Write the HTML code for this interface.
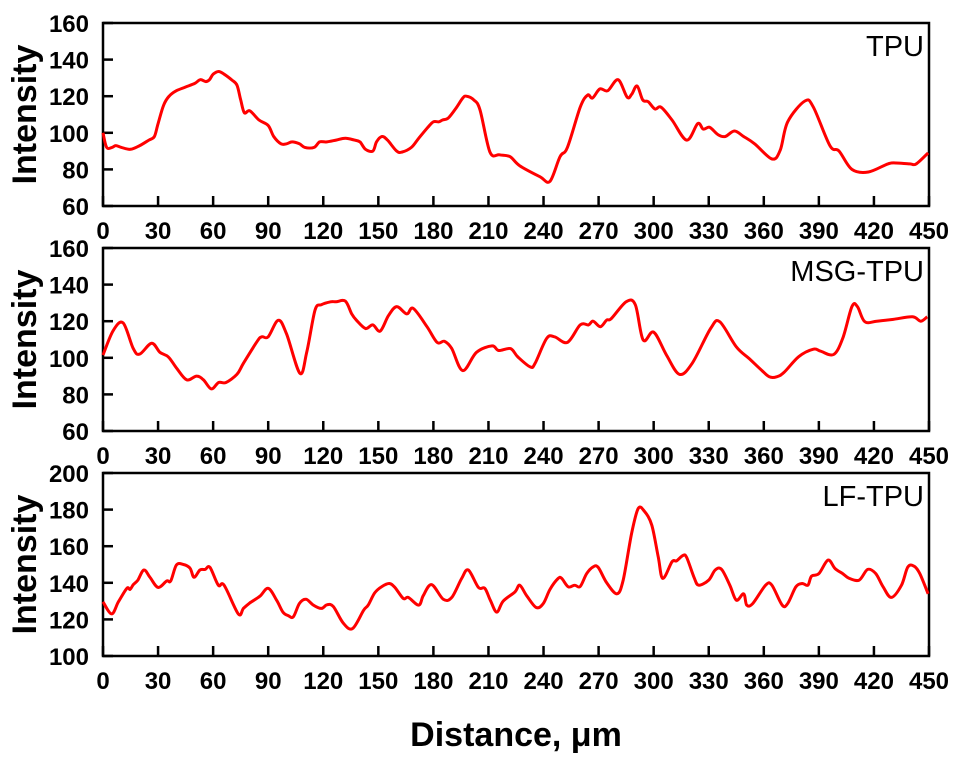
<!DOCTYPE html>
<html><head><meta charset="utf-8"><style>
html,body{margin:0;padding:0;background:#fff;}
svg{display:block;font-family:"Liberation Sans",Arial,sans-serif;}
.tk{font-size:24px;font-weight:bold;fill:#000;}
</style></head><body>
<svg id="chart" width="959" height="763" viewBox="0 0 959 763">
<text x="516" y="746" text-anchor="middle" font-size="34" font-weight="bold">Distance, μm</text>
</svg>
<script>
// TPU series
const tpuX=[0,2,5,7,10,15,20,25,28,30,33,36,40,45,50,53,56,58,60,63,66,70,73,75,77,80,85,90,93,97,100,103,107,110,115,118,122,127,132,137,140,143,147,149,152,155,160,163,168,172,177,180,183,185,188,192,196,198,202,205.4,210.8,216,221.7,227,238,243.5,249,253,260,264,266.7,270.7,275,280.6,285.5,288,291,294,297,300.7,304,310,318,324,327,330.5,335,339,344,349,355,364.5,369,373,382.4,387,396,401,408,417,427.6,432,439.6,443,449.5];
const tpuY=[100,92,92,93,92,91,93,96,98,105,115,120,123,125,127,129,128,129,132,133.5,132,129,126,118,111,112,107,104,98,94,94,95,94,92,92,95,95,96,97,96,95,91,90,95,98,96,90,89.5,92,97,103,106,106,107,108,113,119,120,118,112.5,89.5,88,87,82,76,73.5,87,92,114,120.6,119,124,123,129,119.5,121,125.6,118,117,113,114,107,96,105,102,103,99,98,101,98,94,85.7,90.6,106,117.4,114,93,90,80,78.6,83,83.5,83,83,89];
// MSG-TPU series
const msgX=[0,5.6,11,16.5,20,26.5,31,35.6,40,45.6,51,54.7,59,63,67,73,76.5,84,86.5,90,95.5,100,107.3,111,115.5,119,124,127,132,135.5,138,143,147,151,155.5,160,165.5,169,176.5,182,186,190,196,203.5,212,215.5,222,226,232.8,235.4,241.7,246,253,260,264.5,267,271,274.4,277,285,290,294.3,300,307,314,321,331,336,345,352,359,363,367,371,379,387,391,398,403,408,411,415,421.5,430.5,441,445.5,449];
const msgY=[101.5,115,119,105,102,108,103,100.5,94.5,88,90,88,83,86.5,86.5,91,97,109,111.5,111.5,120.5,113,91.5,103,126,129,130.6,130.6,131,124,120.6,116,118,114.6,123,128,124,127,117,108.4,109,105,93,103,106.5,104,105,100.5,95,97,110.6,111.5,108.4,118,118,120,117,120.6,121.5,130.6,129,109.7,114,101.5,91,97,116,119.7,106,99.6,93,89.6,89.6,92,100.6,104.7,103.6,101.8,110.6,128,128,119.7,120,121,122.4,120,122.4];
// LF-TPU series
const lfX=[0,4.7,8.4,13,14.7,16.5,19,22.3,25.6,30,34.7,36.9,40,43.8,47.4,49.6,52.8,55.6,58.3,62.8,66,73.7,76.5,80,85.5,90,94.6,98,101,103.7,107,110.6,114.6,119,122,125.5,131,136,142,144.5,148,152,156,159,163.6,166.3,172,174.5,179,185.4,190,195.4,199,204.5,208,211,214.5,218,224.4,227,230.8,236,239.9,243.5,248,249.9,253.5,257,260,263.5,267,269.8,274.4,280,283.4,288,291.6,295,299,302.5,305,310,312.5,316,318,322,324.5,330,333.5,337,341.5,345,349,350.7,354,361,364.4,370,373,377.5,381,384,386,390,395,398.8,403,406.6,412,416.6,421,425,429.5,435,438.5,442,445,449.5];
const lfY=[129.6,123,129.6,137,136.4,139,141.5,147,143,137.5,141,141,149.7,150,148,143,147,147.3,148.4,138.7,138.7,123,126,129,132.7,137,130.5,124,122,121.4,128.7,131,127.8,126,128,127,117.8,115,125,127.8,134.5,138,139.6,137.5,131.4,132,127.8,133,139,131,132,142.4,147,137.5,137,130.5,124,130,135,138.7,133,126.5,128.7,136.4,142.4,142.4,137.8,138.7,138,145,148.7,148.4,140,134,141.5,167,180.6,179,171.5,154,142.4,151.5,152,155,153.8,143,138.7,141.5,147,147.3,138.7,130.5,134,127.8,128.7,138.7,138.7,127.8,128.7,137.8,139.6,138.7,143.6,145,152.4,147.8,145,142.4,141.5,147.3,145,137.8,132,138.7,148.7,149,145,134];
const xTicks=[0,30,60,90,120,150,180,210,240,270,300,330,360,390,420,450];
const panels=[
 {name:'tpu',label:'TPU',top:23,bottom:206,ymin:60,ymax:160,yt:[60,80,100,120,140,160],xs:tpuX,ys:tpuY},
 {name:'msg-tpu',label:'MSG-TPU',top:248,bottom:431,ymin:60,ymax:160,yt:[60,80,100,120,140,160],xs:msgX,ys:msgY},
 {name:'lf-tpu',label:'LF-TPU',top:473,bottom:656,ymin:100,ymax:200,yt:[100,120,140,160,180,200],xs:lfX,ys:lfY}
];
const NS='http://www.w3.org/2000/svg';
const svg=document.getElementById('chart');
const L=103,R=929;
function sx(v){return L+(v-0)/450*(R-L);}
function mk(tag,attrs,parent){const e=document.createElementNS(NS,tag);for(const k in attrs)e.setAttribute(k,attrs[k]);(parent||svg).appendChild(e);return e;}
function smooth(pts){
 let d='M'+pts[0][0].toFixed(1)+','+pts[0][1].toFixed(1);
 for(let i=0;i<pts.length-1;i++){
  const p0=pts[Math.max(0,i-1)],p1=pts[i],p2=pts[i+1],p3=pts[Math.min(pts.length-1,i+2)];
  const c1x=p1[0]+(p2[0]-p0[0])/6,c1y=p1[1]+(p2[1]-p0[1])/6;
  const c2x=p2[0]-(p3[0]-p1[0])/6,c2y=p2[1]-(p3[1]-p1[1])/6;
  d+=' C'+c1x.toFixed(1)+','+c1y.toFixed(1)+' '+c2x.toFixed(1)+','+c2y.toFixed(1)+' '+p2[0].toFixed(1)+','+p2[1].toFixed(1);
 }
 return d;
}
panels.forEach(p=>{
 const sy=v=>p.bottom-(v-p.ymin)/(p.ymax-p.ymin)*(p.bottom-p.top);
 const g=mk('g',{});
 
 
 const fr=mk('rect',{x:L,y:p.top,width:R-L,height:p.bottom-p.top,fill:'none',stroke:'#000','stroke-width':2.5},g);
 
 
 p.yt.forEach(v=>{
  const y=sy(v);
  const t=mk('line',{x1:L,x2:L+10,y1:y,y2:y,stroke:'#000','stroke-width':2.5},g);
  
  
  const tx=mk('text',{x:89,y:y+9,'text-anchor':'end',class:'tk'},g);
  tx.textContent=v;
  
  
 });
 xTicks.forEach(v=>{
  const x=sx(v);
  const t=mk('line',{x1:x,x2:x,y1:p.bottom,y2:p.bottom-10,stroke:'#000','stroke-width':2.5},g);
  
  
  const tx=mk('text',{x:x,y:p.bottom+33,'text-anchor':'middle',class:'tk'},g);
  tx.textContent=v;
  
  
 });
 const cy=(p.top+p.bottom)/2;
 const yl=mk('text',{x:0,y:0,transform:'translate(36,'+cy+') rotate(-90)','text-anchor':'middle','font-size':34,'font-weight':'bold'},g);
 yl.textContent='Intensity';
 
 
 const pl=mk('text',{x:924,y:p.top+33,'text-anchor':'end','font-size':29},g);
 pl.textContent=p.label;
 
 
 const pts=p.xs.map((x,i)=>[sx(x),sy(p.ys[i])]);
 const path=mk('path',{d:smooth(pts),fill:'none',stroke:'#ff0000','stroke-width':3,'stroke-linejoin':'round'},g);
 
 
});
</script>
</body></html>
